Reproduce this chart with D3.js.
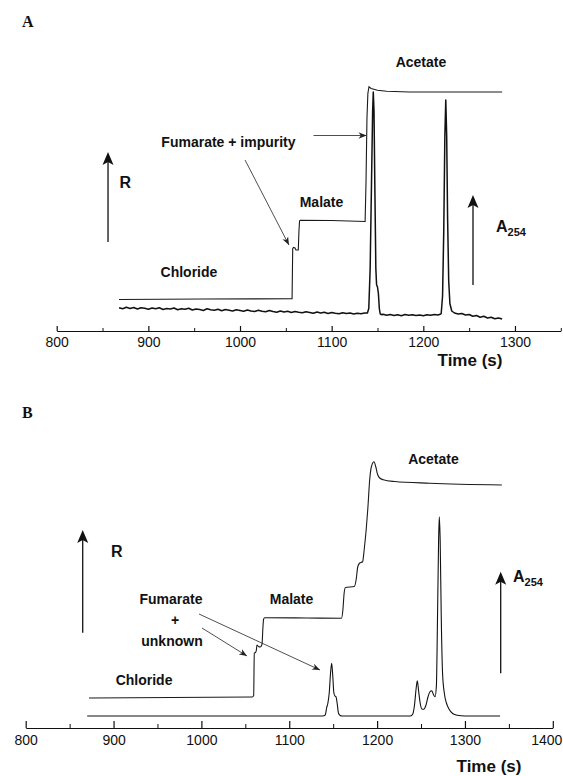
<!DOCTYPE html>
<html>
<head>
<meta charset="utf-8">
<script src="https://cdn.jsdelivr.net/npm/d3@7"></script>
<style>
  body { margin: 0; background: #fff; }
  text { font-family: "Liberation Sans", Arial, sans-serif; fill: #111; }
</style>
</head>
<body>
<div id="chart"></div>
<script>
// ---- data (time in s, signal in arbitrary units) ----
const majorTicksA = [800, 900, 1000, 1100, 1200, 1300];
const minorTicksA = [850, 950, 1050, 1150, 1250, 1350];
const majorTicksB = [800, 900, 1000, 1100, 1200, 1300, 1400];
const minorTicksB = [850, 950, 1050, 1150, 1250, 1350];

// panel A: conductivity-type detector R (stepwise)
const rA = [
  [868, 12.6], [960, 12.8], [1056.8, 12.9], [1057.5, 33.0], [1058.5, 33.4], [1060, 33.2],
  [1061, 32.4], [1063.6, 32.4], [1064.3, 40], [1065, 44.1], [1066, 44.3], [1100, 44.2],
  [1136.5, 43.8], [1137.5, 60], [1138.5, 85], [1139.5, 95], [1140.7, 97.7], [1143, 97.0],
  [1150, 96.3], [1160, 95.9], [1185, 95.6], [1286, 95.6]
];

// panel A: UV absorbance A254 (noisy)
const uvA = [
  [868, 9.3], [872, 8.9], [876, 9.5], [880, 9.0], [884, 9.4], [888, 8.8], [892, 9.3], [896, 9.1], [900, 8.7], [904, 9.2],
  [908, 8.9], [912, 9.3], [916, 8.6], [920, 9.0], [924, 8.8], [928, 9.2], [932, 8.5], [936, 8.9], [940, 8.7], [944, 9.1],
  [948, 8.4], [952, 8.8], [956, 8.6], [960, 8.2], [964, 8.9], [968, 8.5], [972, 8.3], [976, 8.7], [980, 8.1], [984, 8.6],
  [988, 8.3], [992, 8.0], [996, 8.5], [1000, 8.2], [1004, 7.9], [1008, 8.4], [1012, 8.0], [1016, 7.8], [1020, 8.3], [1024, 7.9],
  [1028, 7.7], [1032, 8.2], [1036, 7.8], [1040, 7.5], [1044, 8.0], [1048, 7.6], [1052, 7.9], [1056, 7.4], [1060, 7.8], [1064, 7.5],
  [1068, 7.3], [1072, 7.7], [1076, 7.4], [1080, 7.1], [1084, 7.6], [1088, 7.2], [1092, 7.5], [1096, 7.0], [1100, 7.4], [1104, 7.1],
  [1108, 6.9], [1112, 7.3], [1116, 7.0], [1120, 7.2], [1124, 6.8], [1128, 7.1], [1132, 6.9], [1136, 7.2],
  [1139, 7.2], [1140.5, 9], [1142, 25], [1143.5, 60], [1144.7, 88], [1145.4, 95.6], [1146.2, 88], [1147.2, 55],
  [1148.2, 25], [1149, 18.5], [1150, 17.6], [1151, 15], [1152, 9], [1153, 6.8], [1155, 6.5],
  [1156, 6.7], [1160, 6.3], [1164, 6.6], [1168, 6.2], [1172, 6.5], [1176, 6.1], [1180, 6.6], [1184, 6.3], [1188, 6.5],
  [1192, 6.2], [1196, 6.4], [1200, 6.1], [1204, 6.5], [1208, 6.3], [1212, 6.6], [1216, 6.4], [1219, 6.8],
  [1219.5, 7], [1221, 14], [1222.3, 40], [1223.5, 78], [1224.5, 92.4], [1225.5, 78], [1226.5, 45], [1227.7, 20],
  [1229, 11], [1231, 8], [1234, 7.2],
  [1238, 6.8], [1242, 7.0], [1246, 6.4], [1250, 6.6], [1254, 5.9], [1258, 6.2], [1262, 5.5], [1266, 5.9],
  [1270, 5.2], [1274, 5.5], [1278, 4.9], [1282, 5.2], [1286, 4.8]
];

// panel B: R
const rB = [
  [872, 12.0], [1058, 12.4], [1059.5, 13], [1060.2, 30], [1061.5, 30.2], [1062.5, 31], [1063.2, 33.2],
  [1065, 32.6], [1067, 32.4], [1069, 33.5], [1070, 40], [1070.8, 43.5], [1072, 44.1], [1120, 44.0],
  [1159.5, 43.9], [1161, 47], [1162.5, 54], [1164, 56.2], [1174, 56.6], [1176, 59], [1178, 64.5],
  [1180, 65.9], [1183.5, 66.5], [1185.5, 72], [1187.5, 79], [1189.5, 88], [1191.5, 99], [1193.5, 104.5],
  [1196.5, 106.5], [1198.5, 104.5], [1200.5, 101.5], [1203, 100.0], [1207, 99.3], [1220, 98.6],
  [1260, 97.9], [1342, 97.2]
];

// panel B: A254
const uvB = [
  [870, 4.8], [1138, 4.8], [1141, 5.2], [1142.5, 8], [1144, 10], [1145.5, 14], [1147, 22], [1148.3, 25.9],
  [1149.5, 21], [1150.8, 14], [1152, 12.8], [1153.2, 12.5], [1154.5, 10], [1156, 6], [1158, 5], [1160, 4.8],
  [1238, 4.8], [1240.5, 5.5], [1242.5, 9], [1244.5, 16], [1245.8, 18.9], [1247.2, 15], [1249, 10], [1251, 7.6],
  [1253, 7.5], [1255.5, 9], [1258, 12.5], [1260, 14.4], [1262.2, 14.9], [1264, 13.5], [1266, 12.5], [1267.5, 17],
  [1268.8, 45], [1270, 75], [1270.8, 84.5], [1271.8, 75], [1273, 45], [1274.5, 22], [1276.5, 14], [1279, 9.9],
  [1282, 7.5], [1286, 5.8], [1291, 5.1], [1300, 4.8], [1340, 4.8]
];

// ---- layout ----
const width = 563, height = 776;
const svg = d3.select("#chart").append("svg")
  .attr("width", width).attr("height", height)
  .style("background", "#fff");

const defs = svg.append("defs");
defs.append("marker")
  .attr("id", "head")
  .attr("markerUnits", "userSpaceOnUse")
  .attr("viewBox", "0 0 10 8")
  .attr("refX", 10).attr("refY", 4)
  .attr("markerWidth", 8).attr("markerHeight", 6.5)
  .attr("orient", "auto")
  .append("path").attr("d", "M0,0 L10,4 L0,8 L3,4 Z").attr("fill", "#222");

const panels = [
  {
    letter: "A", letterY: 27,
    x: d3.scaleLinear().domain([800, 1350]).range([56.7, 560.8]),
    y: d3.scaleLinear().domain([0, 100]).range([331, 81]),
    major: majorTicksA, minor: minorTicksA, majorLen: 5, minorLen: 3, pad: 6,
    r: rA, uv: uvA, uvWidth: 1.5, curve: d3.curveLinear,
    timeLabel: [470, 366],
    rArrow: [856, 35.6, 71.6], rLabel: [868.5, 59.6],
    uvArrow: [1254.2, 18.4, 54.4], uvLabel: [1279.3, 42],
    labels: [
      ["Acetate", 1197.4, 107.6], ["Fumarate + impurity", 987.4, 75.6],
      ["Malate", 1088.9, 51.6], ["Chloride", 944.3, 23.6]
    ],
    arrows: [[1005.5, 68.4, 1053.4, 34.4], [1080.2, 78.2, 1138.0, 78.2]]
  },
  {
    letter: "B", letterY: 418,
    x: d3.scaleLinear().domain([800, 1400]).range([25.7, 552.8]),
    y: d3.scaleLinear().domain([0, 100]).range([728, 478]),
    major: majorTicksB, minor: minorTicksB, majorLen: 7, minorLen: 4, pad: 7,
    r: rB, uv: uvB, uvWidth: 1.1, curve: d3.curveMonotoneX,
    timeLabel: [489, 772],
    rArrow: [864.9, 38.1, 79.2], rLabel: [897, 70.8],
    uvArrow: [1340.7, 21.9, 62.5], uvLabel: [1354.7, 60.8],
    labels: [
      ["Acetate", 1264.2, 107.6], ["Fumarate", 965.4, 51.6], ["+", 970, 43.2],
      ["unknown", 966.5, 34.8], ["Malate", 1102.6, 51.6], ["Chloride", 934.7, 19.2]
    ],
    arrows: [[1000.7, 40, 1051.9, 28.8], [997.3, 45.6, 1135.0, 23.2]]
  }
];

panels.forEach(p => {
  const g = svg.append("g");
  const axisY = p.y(0);

  // panel letter
  g.append("text").attr("x", 22).attr("y", p.letterY)
    .style("font-family", "'Liberation Serif', 'Times New Roman', serif")
    .style("font-weight", "bold").style("font-size", "16px")
    .text(p.letter);

  // time axis, ticks pointing up
  g.append("g").attr("transform", `translate(0,${axisY})`)
    .call(d3.axisBottom(p.x).tickValues(p.major).tickSizeInner(-p.majorLen)
      .tickSizeOuter(0).tickPadding(p.pad).tickFormat(d3.format("d")))
    .call(a => a.selectAll("text").style("font-size", "14px").attr("fill", "#1a1a1a"))
    .call(a => a.selectAll("line,path").attr("stroke", "#111").attr("stroke-width", 1.2))
    // keep the last label inside the picture
    .call(a => a.selectAll(".tick text").filter(d => p.x(d) > width - 16)
      .attr("text-anchor", "end").attr("dx", 9));
  g.append("g").attr("transform", `translate(0,${axisY})`)
    .call(d3.axisBottom(p.x).tickValues(p.minor).tickSizeInner(-p.minorLen)
      .tickSizeOuter(0).tickFormat(""))
    .call(a => a.select(".domain").remove())
    .call(a => a.selectAll("line").attr("stroke", "#111"));

  g.append("text").attr("x", p.timeLabel[0]).attr("y", p.timeLabel[1])
    .attr("text-anchor", "middle").style("font-weight", "bold").style("font-size", "17px")
    .text("Time (s)");

  // traces
  const line = d3.line().x(d => p.x(d[0])).y(d => p.y(d[1])).curve(p.curve);
  g.append("path").datum(p.r).attr("d", line)
    .attr("fill", "none").attr("stroke", "#1a1a1a").attr("stroke-width", 1.1);
  g.append("path").datum(p.uv).attr("d", line)
    .attr("fill", "none").attr("stroke", "#111").attr("stroke-width", p.uvWidth)
    .attr("stroke-linejoin", "round");

  // big vertical arrows (R and A254)
  function bigArrow(t, v0, v1) {
    const x = p.x(t), yb = p.y(v0), yt = p.y(v1);
    g.append("line").attr("x1", x).attr("x2", x).attr("y1", yb).attr("y2", yt + 6)
      .attr("stroke", "#111").attr("stroke-width", 1.3);
    g.append("path")
      .attr("d", `M${x},${yt} L${x - 5.5},${yt + 13} L${x},${yt + 10} L${x + 5.5},${yt + 13} Z`)
      .attr("fill", "#111");
  }
  bigArrow(...p.rArrow);
  bigArrow(...p.uvArrow);

  g.append("text").attr("x", p.x(p.rLabel[0])).attr("y", p.y(p.rLabel[1])).attr("dy", "0.36em")
    .style("font-weight", "bold").style("font-size", "16px").text("R");

  const a = g.append("text").attr("x", p.x(p.uvLabel[0])).attr("y", p.y(p.uvLabel[1])).attr("dy", "0.36em")
    .style("font-weight", "bold").style("font-size", "16px");
  a.append("tspan").text("A");
  a.append("tspan").attr("dy", 4).style("font-size", "11px").text("254");

  // text labels
  p.labels.forEach(([txt, t, v]) => {
    g.append("text").attr("x", p.x(t)).attr("y", p.y(v)).attr("dy", "0.36em")
      .attr("text-anchor", "middle").style("font-weight", "bold").style("font-size", "14px")
      .text(txt);
  });

  // annotation arrows
  p.arrows.forEach(([t0, v0, t1, v1]) => {
    g.append("line")
      .attr("x1", p.x(t0)).attr("y1", p.y(v0)).attr("x2", p.x(t1)).attr("y2", p.y(v1))
      .attr("stroke", "#222").attr("stroke-width", 0.8)
      .attr("marker-end", "url(#head)");
  });
});
</script>
</body>
</html>
